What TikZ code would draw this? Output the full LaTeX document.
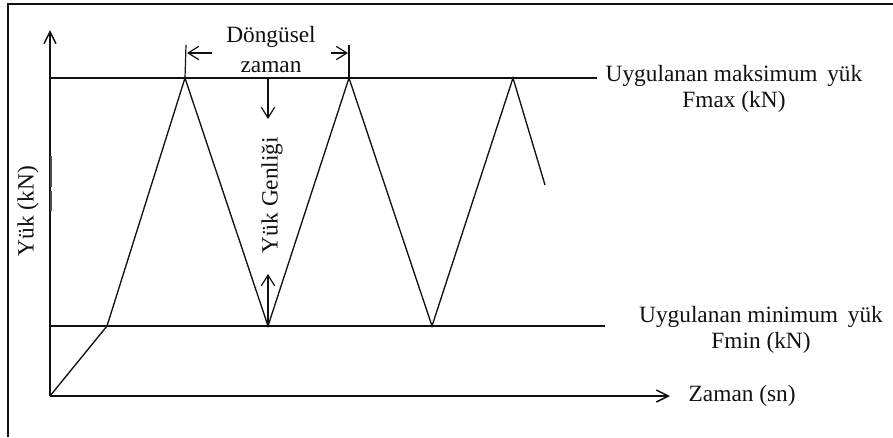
\documentclass[tikz,border=0pt]{standalone}
\usepackage{fontspec}
\setmainfont{Liberation Serif}
\usetikzlibrary{arrows.meta,positioning,calc}
\definecolor{ink}{HTML}{111111}

\begin{document}
\begin{tikzpicture}[x=0.75pt,y=-0.75pt,
    line width=1.1pt,draw=ink,
    lbl/.style={inner sep=0pt,align=center,text=ink,font=\fontsize{17.5}{19.5}\selectfont},
    axis/.style={-{Straight Barb[length=9pt,width=9pt]},line width=1.1pt},
    dim/.style={-{Straight Barb[length=8pt,width=10pt]},line width=0.9pt}]
    \useasboundingbox (0,0) rectangle (893,437);
    % frame
    \draw[line width=1pt] (8,437) -- (8,4) -- (893,4);
    % axes
    \coordinate (o) at (50,396);
    \coordinate (ytop) at (50,30);
    \coordinate (xend) at (670,396);
    \draw[axis] (o) -- (ytop);
    \draw[axis] (o) -- (xend);
    % thick marks on the load axis
    \coordinate (k1) at (51,156);
    \coordinate (k2) at (51,187);
    \coordinate (k3) at (51,191);
    \coordinate (k4) at (51,211);
    \draw[line width=2pt,draw=ink!75] (k1) -- (k2);
    \draw[line width=2pt,draw=ink!75] (k3) -- (k4);
    % load levels
    \coordinate (maxL) at (50,78);
    \coordinate (maxR) at (597,78);
    \coordinate (minL) at (50,326);
    \coordinate (minR) at (605,326);
    \draw (maxL) -- (maxR);
    \draw (minL) -- (minR);
    % waveform
    \coordinate (w1) at (107,326);
    \coordinate (p1) at (185,78);
    \coordinate (v1) at (268,326);
    \coordinate (p2) at (349,78);
    \coordinate (v2) at (432,326);
    \coordinate (p3) at (513,78);
    \coordinate (wend) at (545,185);
    \draw[line width=1pt,line join=miter] (o) -- (w1) -- (p1) -- (v1) -- (p2) -- (v2) -- (p3) -- (wend);
    % cycle time
    \coordinate (t1) at (186,45);
    \coordinate (t2) at (349,45);
    \draw[line width=0.9pt] (t1) -- (p1);
    \draw[line width=0.9pt] (t2) -- (p2);
    \coordinate (a1) at (212,53);
    \coordinate (a1e) at (187,53);
    \coordinate (a2) at (331,53);
    \coordinate (a2e) at (348,53);
    \draw[dim] (a1) -- (a1e);
    \draw[dim] (a2) -- (a2e);
    \node[lbl] (cyc) at (271,50) {Döngüsel\\[3pt]zaman};
    % amplitude
    \coordinate (ampT) at (268,78);
    \coordinate (ampTe) at (268,119);
    \coordinate (ampB) at (268,326);
    \coordinate (ampBe) at (268,274);
    \draw[dim] (ampT) -- (ampTe);
    \draw[dim] (ampB) -- (ampBe);
    \node[lbl,rotate=90] (amp) at (272,195) {Yük Genliği};
    % labels
    \node[lbl] (fmax) at (734,89) {Uygulanan maksimum\, yük\\Fmax (kN)};
    \node[lbl] (fmin) at (761,330) {Uygulanan minimum\, yük\\Fmin (kN)};
    \node[lbl,anchor=west] (xlbl) at (688,396) {Zaman (sn)};
    \node[lbl,rotate=90] (ylbl) at (28,211) {Yük (kN)};
  \end{tikzpicture}
\end{document}
